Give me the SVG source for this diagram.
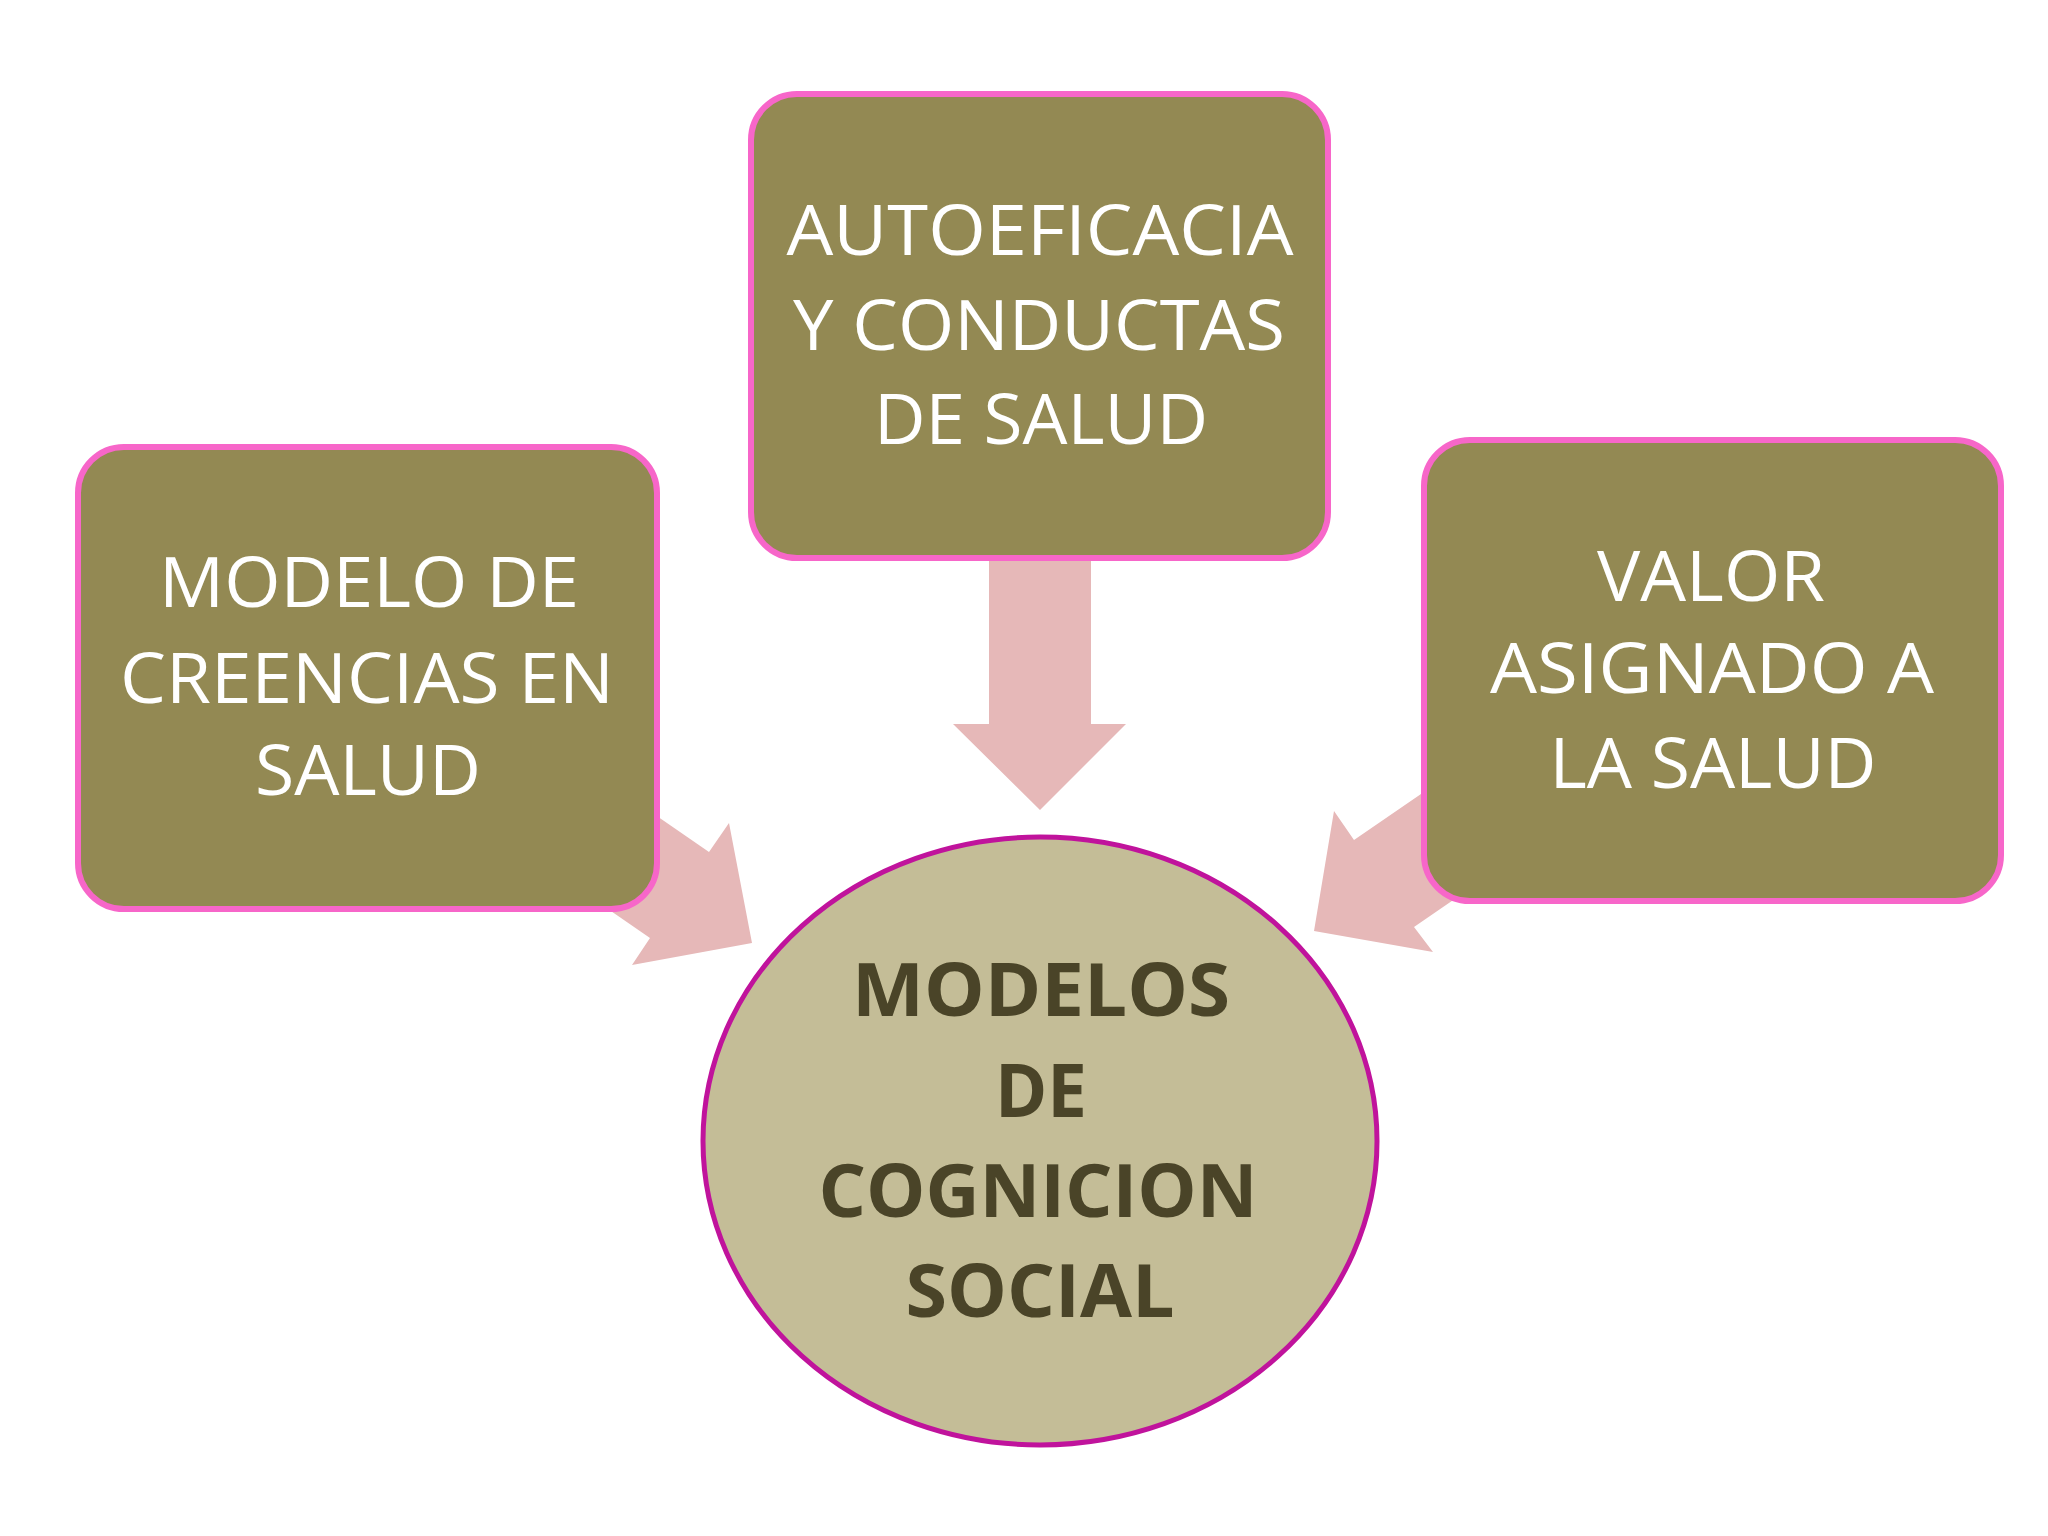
<svg xmlns="http://www.w3.org/2000/svg" width="2048" height="1536" viewBox="0 0 2048 1536">
<style>
.box{fill:#938953;stroke:#F766C9;stroke-width:6}
.arrow{fill:#E6B8B8;stroke:none}
.lbl{font-family:"Open Sans","Liberation Sans",sans-serif;font-size:69px;fill:#FFFFFF;text-anchor:middle}
.ctr{font-family:"Open Sans","Liberation Sans",sans-serif;font-size:73px;font-weight:bold;fill:#4A4428;text-anchor:middle}
</style>
<rect width="2048" height="1536" fill="#FFFFFF"/>
<g id="connectors">
<polygon class="arrow" points="989,540 1091,540 1091,724 1126,724 1040,810 953,724 989,724"/>
<polygon class="arrow" points="580,763 709,852 729,823 752,943 632,965 650,938 521,849"/>
<polygon class="arrow" points="1488,748 1354,840 1334,811 1314,931 1433,952 1414,927 1548,835"/>
</g>
<g id="node-top">
<rect class="box" x="751" y="94" width="577" height="464" rx="46" ry="46"/>
<text class="lbl" x="1040" y="255" textLength="507" lengthAdjust="spacingAndGlyphs">AUTOEFICACIA</text>
<text class="lbl" x="1039" y="350" textLength="492" lengthAdjust="spacingAndGlyphs">Y CONDUCTAS</text>
<text class="lbl" x="1041" y="444" textLength="334" lengthAdjust="spacingAndGlyphs">DE SALUD</text>
</g>
<g id="node-left">
<rect class="box" x="78" y="447" width="579" height="462" rx="46" ry="46"/>
<text class="lbl" x="369" y="607" textLength="420" lengthAdjust="spacingAndGlyphs">MODELO DE</text>
<text class="lbl" x="367" y="703" textLength="494" lengthAdjust="spacingAndGlyphs">CREENCIAS EN</text>
<text class="lbl" x="368" y="795" textLength="226" lengthAdjust="spacingAndGlyphs">SALUD</text>
</g>
<g id="node-right">
<rect class="box" x="1424" y="440" width="577" height="461" rx="46" ry="46"/>
<text class="lbl" x="1711" y="601" textLength="228" lengthAdjust="spacingAndGlyphs">VALOR</text>
<text class="lbl" x="1712" y="693" textLength="444" lengthAdjust="spacingAndGlyphs">ASIGNADO A</text>
<text class="lbl" x="1713" y="788" textLength="327" lengthAdjust="spacingAndGlyphs">LA SALUD</text>
</g>
<g id="node-center">
<ellipse cx="1040" cy="1141" rx="337" ry="304" fill="#C4BD97" stroke="#C0139C" stroke-width="5"/>
<text class="ctr" x="1041" y="1016" textLength="378" lengthAdjust="spacingAndGlyphs">MODELOS</text>
<text class="ctr" x="1041" y="1117" textLength="92" lengthAdjust="spacingAndGlyphs">DE</text>
<text class="ctr" x="1038" y="1217" textLength="439" lengthAdjust="spacingAndGlyphs">COGNICION</text>
<text class="ctr" x="1040" y="1317" textLength="269" lengthAdjust="spacingAndGlyphs">SOCIAL</text>
</g>
</svg>
